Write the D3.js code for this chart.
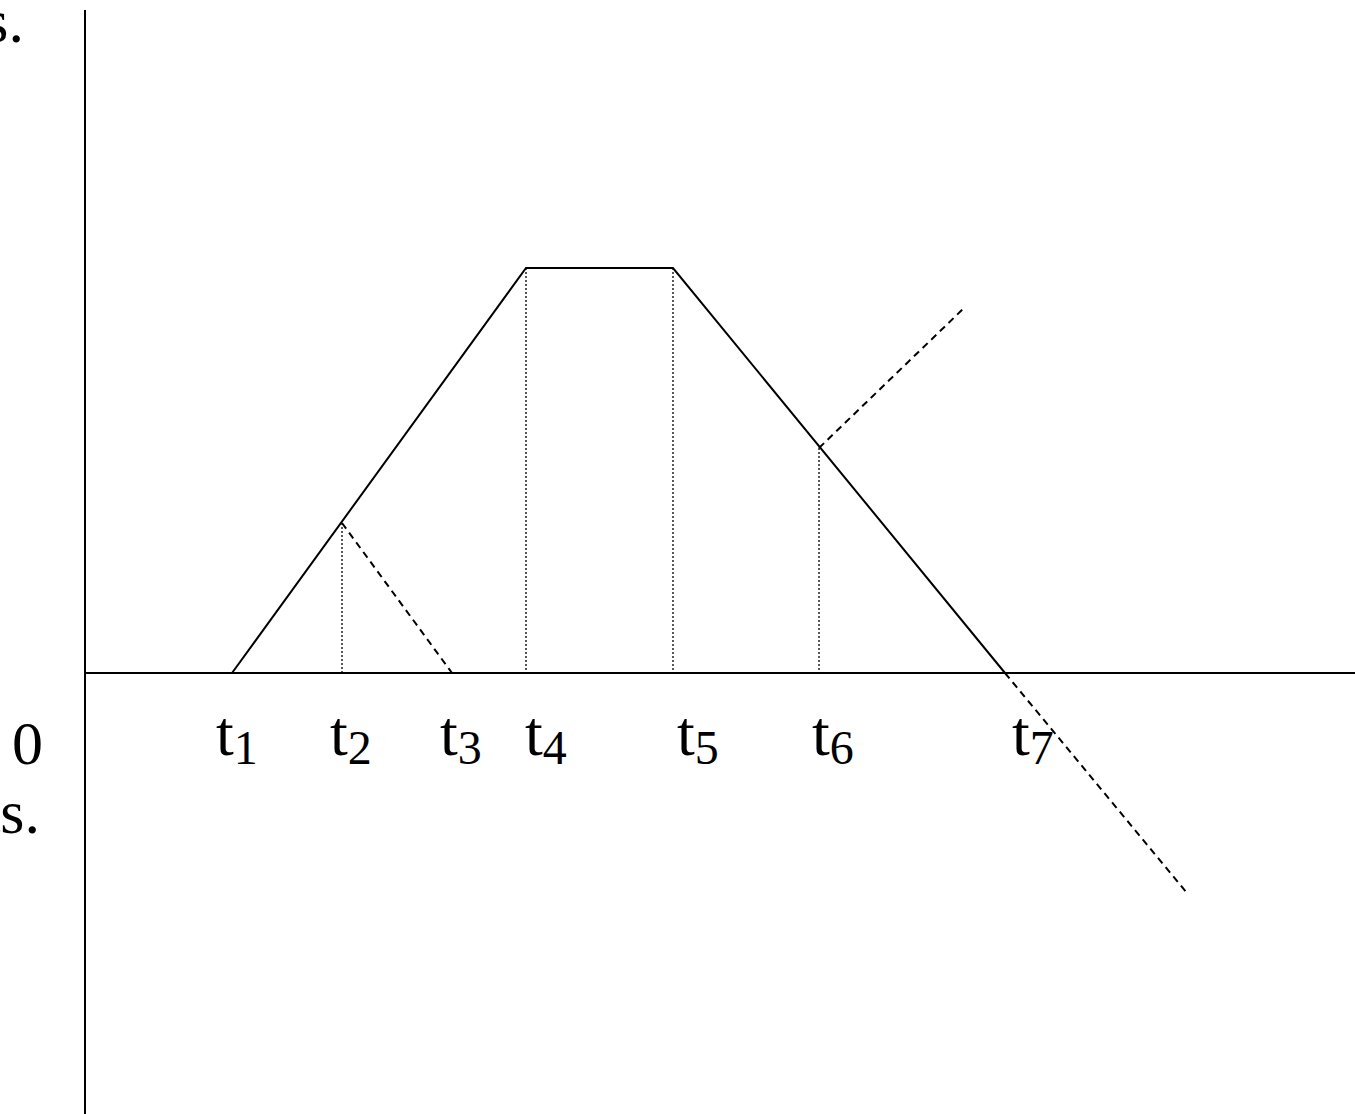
<!DOCTYPE html>
<html>
<head>
<meta charset="utf-8">
<script src="https://cdn.jsdelivr.net/npm/d3@7"></script>
<style>
  body { margin: 0; background: #fff; }
  text { font-family: "Liberation Serif", "Times New Roman", serif; fill: #000; }
</style>
</head>
<body>
<div id="chart"></div>
<script>
// Time marks t1..t7 (x units) and where their labels start
const tickNames = ["1", "2", "3", "4", "5", "6", "7"];
const tickTimes = [1.47, 2.57, 3.67, 4.41, 5.88, 7.34, 9.20];
const labelStarts = [1.31, 2.45, 3.55, 4.40, 5.92, 7.27, 9.27];

// Solid trapezoid profile
const profile = [[1.47, 0], [4.41, 4.05], [5.88, 4.05], [9.20, 0]];

// Dotted drop lines: [x, top value]
const dropLines = [[2.57, 1.50], [4.41, 4.05], [5.88, 4.05], [7.34, 2.25]];

// Dashed segments
const dashed = [
  [[2.57, 1.50], [3.67, 0]],
  [[7.34, 2.25], [8.78, 3.64]],
  [[9.20, 0], [11.02, -2.20]]
];

// Dimensions
const width = 1355;
const height = 1114;

const x = d3.scaleLinear().domain([0, 12.7]).range([85, 1355]);
const y = d3.scaleLinear().domain([0, 6.63]).range([673, 10]);

const svg = d3
  .select("#chart")
  .append("svg")
  .attr("width", width)
  .attr("height", height);

// Axes
svg.append("line")
  .attr("x1", x(0)).attr("x2", x(0))
  .attr("y1", y(6.63)).attr("y2", height)
  .attr("stroke", "#000").attr("stroke-width", 2);
svg.append("line")
  .attr("x1", x(0)).attr("x2", x(12.7))
  .attr("y1", y(0)).attr("y2", y(0))
  .attr("stroke", "#000").attr("stroke-width", 2);

// Dotted drop lines
svg.selectAll(".drop")
  .data(dropLines)
  .enter()
  .append("line")
  .attr("class", "drop")
  .attr("x1", (d) => x(d[0])).attr("x2", (d) => x(d[0]))
  .attr("y1", (d) => y(d[1])).attr("y2", y(0))
  .attr("stroke", "#000").attr("stroke-width", 1.3)
  .attr("stroke-dasharray", "2,2");

// Dashed lines
const line = d3.line().x((d) => x(d[0])).y((d) => y(d[1]));
svg.selectAll(".dash")
  .data(dashed)
  .enter()
  .append("path")
  .attr("class", "dash")
  .attr("d", line)
  .attr("fill", "none")
  .attr("stroke", "#000").attr("stroke-width", 2)
  .attr("stroke-dasharray", "7,5");

// Solid profile
svg.append("path")
  .attr("d", line(profile))
  .attr("fill", "none")
  .attr("stroke", "#000").attr("stroke-width", 2);

// Tick labels t_i
const labels = svg.selectAll(".tlabel")
  .data(tickNames)
  .enter()
  .append("text")
  .attr("class", "tlabel")
  .attr("x", (d, i) => x(labelStarts[i]))
  .attr("y", 755)
  .attr("font-size", 64);
labels.append("tspan").text("t");
labels.append("tspan")
  .attr("font-size", 48)
  .attr("dy", 9)
  .text((d) => d);

// Zero label
svg.append("text")
  .attr("x", 12).attr("y", 764)
  .attr("font-size", 62)
  .text("0");

// Clipped side notes
svg.append("text")
  .attr("x", 24).attr("y", 42)
  .attr("text-anchor", "end")
  .attr("font-size", 62)
  .text("s.");
svg.append("text")
  .attr("x", 40).attr("y", 833)
  .attr("text-anchor", "end")
  .attr("font-size", 62)
  .text("ts.");
</script>
</body>
</html>
